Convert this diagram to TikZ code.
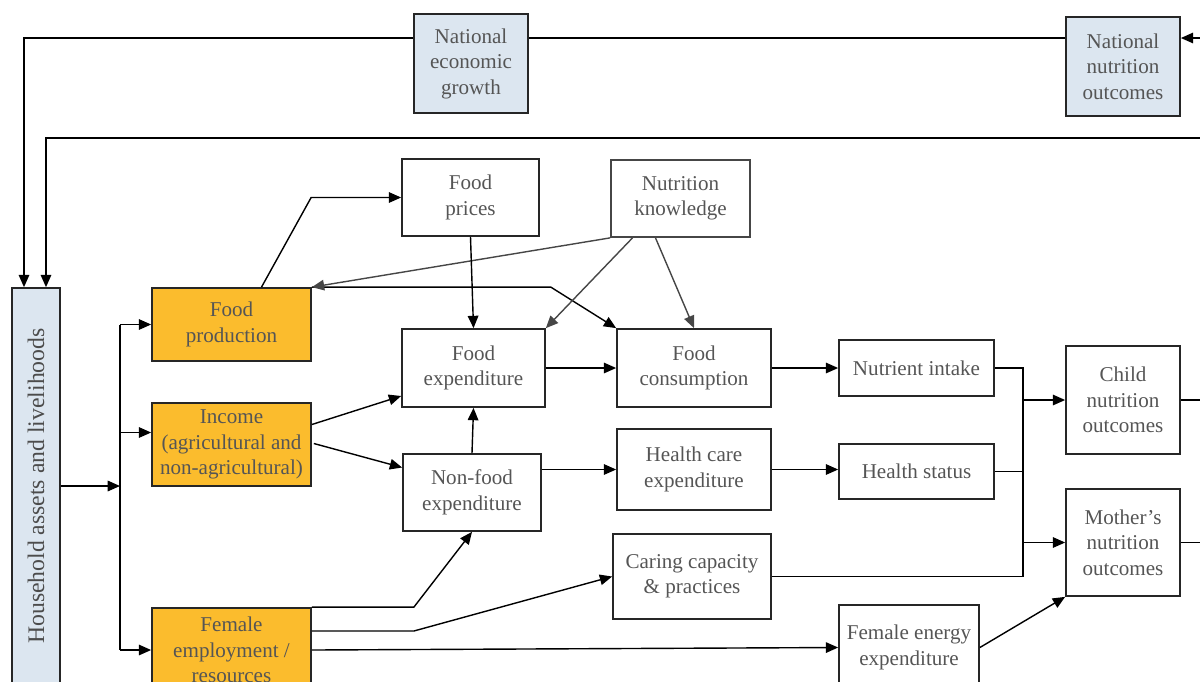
\documentclass[tikz,border=0pt]{standalone}
\usepackage{fontspec}
\setmainfont{Liberation Serif}
\usetikzlibrary{calc,positioning,arrows.meta}
\definecolor{assetblue}{RGB}{220,230,240}
\definecolor{incomeorange}{RGB}{251,188,45}
\definecolor{labelgrey}{RGB}{85,85,85}
\definecolor{knowgrey}{RGB}{70,70,70}

\tikzset{
  box/.style={draw=black!85, line width=1pt, align=center, inner sep=1pt,
    text=labelgrey, font=\fontsize{12}{14.5}\selectfont},
  bluebox/.style={box, fill=assetblue},
  orangebox/.style={box, fill=incomeorange},
  arr/.style={-{Triangle[length=7pt,width=6pt]}, line width=0.8pt},
  greyarr/.style={arr, draw=knowgrey}
}

\begin{document}
\begin{tikzpicture}[x=0.02cm, y=-0.02cm]
  \useasboundingbox (0,0) rectangle (1200,681);
  \clip (0,0) rectangle (1200,681);

  % national level
  \node[bluebox, minimum width=2.28cm, minimum height=1.98cm] (neg) at (471,63.5) {National\\economic\\growth};
  \node[bluebox, minimum width=2.28cm, minimum height=1.98cm] (nno) at (1123,66.5) {National\\nutrition\\outcomes};

  % household
  \node[bluebox, minimum width=0.96cm, minimum height=7.92cm, font=\fontsize{13.5}{16}\selectfont, text=black!70] (hh) at (36,486) {\rotatebox{90}{Household assets and livelihoods}};
  \node[orangebox, minimum width=3.18cm, minimum height=1.46cm] (fp) at (231.5,324.5) {Food\\production};
  \node[orangebox, minimum width=3.18cm, minimum height=1.66cm] (inc) at (231.5,444.5) {Income\\(agricultural and\\non-agricultural)};
  \node[orangebox, minimum width=3.18cm, minimum height=1.68cm] (fem) at (231.5,650) {Female\\employment /\\resources};

  % middle
  \node[box, minimum width=2.74cm, minimum height=1.54cm] (fpr) at (470.5,197.5) {Food\\prices};
  \node[box, draw=knowgrey, minimum width=2.78cm, minimum height=1.54cm] (nk) at (680.5,198.5) {Nutrition\\knowledge};
  \node[box, minimum width=2.86cm, minimum height=1.56cm] (fexp) at (473.5,368) {Food\\expenditure};
  \node[box, minimum width=2.76cm, minimum height=1.54cm] (nfexp) at (472,492.5) {Non-food\\expenditure};
  \node[box, minimum width=3.08cm, minimum height=1.56cm] (fcons) at (694,368) {Food\\consumption};
  \node[box, minimum width=3.08cm, minimum height=1.62cm] (hce) at (694,469.5) {Health care\\expenditure};
  \node[box, minimum width=3.16cm, minimum height=1.70cm] (care) at (692,576.5) {Caring capacity\\\& practices};
  \node[box, minimum width=2.80cm, minimum height=1.70cm] (fee) at (909,647.5) {Female energy\\expenditure};
  \node[box, minimum width=3.10cm, minimum height=1.12cm] (ni) at (916.5,368) {Nutrient intake};
  \node[box, minimum width=3.10cm, minimum height=1.10cm] (hs) at (916.5,471.5) {Health status};

  % outcomes
  \node[box, minimum width=2.28cm, minimum height=2.16cm] (child) at (1123,400) {Child\\nutrition\\outcomes};
  \node[box, minimum width=2.28cm, minimum height=2.14cm] (mother) at (1123,542.5) {Mother’s\\nutrition\\outcomes};

  \coordinate (top) at (0,38);
  \coordinate (loop) at (0,138);
  \coordinate (hhL) at ($(hh.north)+(-12,0)$);
  \coordinate (hhR) at ($(hh.north)+(10,0)$);
  \coordinate (spine) at (120,0);
  \coordinate (bus) at (1023,0);

  % feedback loops
  \draw[arr] (1210,38) -- (top -| nno.east);
  \draw[line width=0.8pt] (top -| nno.west) -- (top -| neg.east);
  \draw[arr] (top -| neg.west) -- (top -| hhL) -- (hhL);
  \draw[arr] (1210,138) -- (loop -| hhR) -- (hhR);

  % household to sources
  \draw[arr] (hh.east) -- (hh.east -| spine);
  \draw[line width=0.8pt] (fp.west -| spine) -- (fem.west -| spine);
  \draw[arr] (fp.west -| spine) -- (fp.west);
  \draw[arr] ($(inc.west -| spine)+(0,-12)$) -- ($(inc.west)+(0,-12)$);
  \draw[arr] (fem.west -| spine) -- (fem.west);

  % food side
  \draw[arr] ($(fp.north)+(30,0)$) -- ($(fpr.west)+(-90,0)$) -- (fpr.west);
  \draw[arr] (fp.north east) -- ($(fp.north east)+(239,0)$) -- (fcons.north west);
  \draw[greyarr] (nk.south west) -- (fp.north east);
  \draw[greyarr] ($(nk.south)+(-48,0)$) -- (fexp.north east);
  \draw[greyarr] ($(nk.south)+(-25,0)$) -- (fcons.north);
  \draw[arr] (fpr.south) -- (fexp.north);
  \draw[arr] (fexp.east) -- (fcons.west);
  \draw[arr] ($(inc.east)+(0,-20)$) -- ($(fexp.west)+(0,28)$);
  \draw[arr] ($(inc.east)+(2,-1)$) -- ($(nfexp.west)+(0,-25)$);
  \draw[arr] (nfexp.north) -- (fexp.south);
  \draw[arr] (nfexp.east |- hce.west) -- (hce.west);

  % female employment
  \draw[arr] (fem.north east) -- ($(fem.north east)+(102,0)$) -- (nfexp.south);
  \draw[arr] ($(fem.east)+(0,-19)$) -- ($(fem.east)+(102,-19)$) -- (care.west);
  \draw[arr] (fem.east) -- (fee.west);

  % to outcomes
  \draw[arr] (fcons.east) -- (ni.west);
  \draw[arr] (hce.east) -- (hce.east -| hs.west);
  \draw[line width=0.8pt] (ni.east) -- (ni.east -| bus) -- (care.east -| bus) -- (care.east);
  \draw[line width=0.8pt] (hs.east) -- (hs.east -| bus);
  \draw[arr] (child.west -| bus) -- (child.west);
  \draw[arr] (mother.west -| bus) -- (mother.west);
  \draw[arr] (fee.east) -- (mother.south west);
  \draw[line width=0.8pt] (child.east) -- (child.east -| 1210,0);
  \draw[line width=0.8pt] (mother.east) -- (mother.east -| 1210,0);
\end{tikzpicture}
\end{document}
